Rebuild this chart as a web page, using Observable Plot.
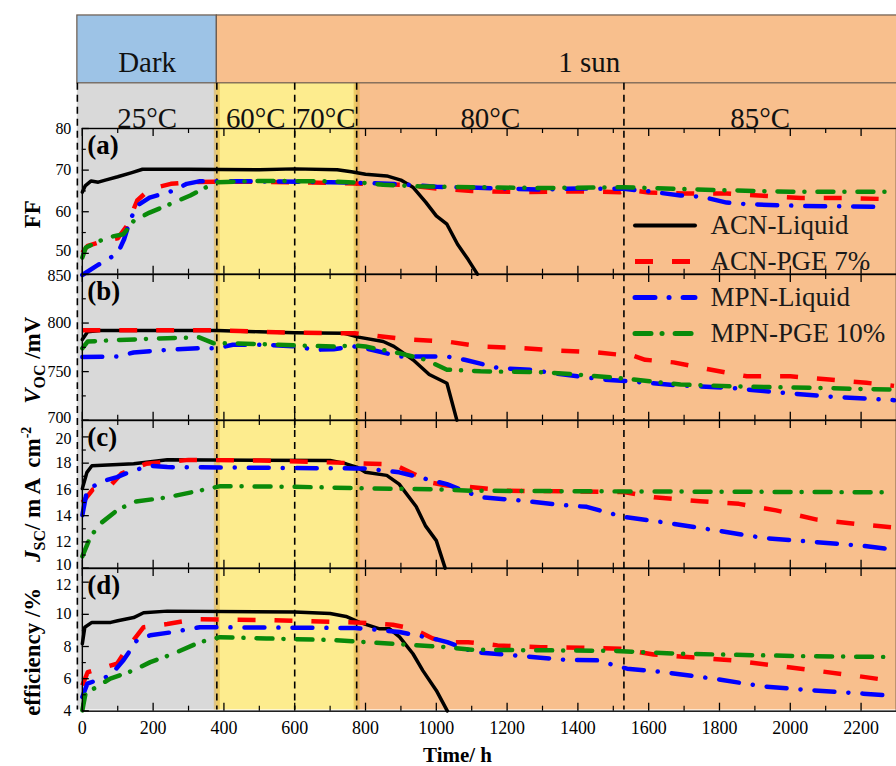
<!DOCTYPE html>
<html><head><meta charset="utf-8">
<script src="https://cdn.jsdelivr.net/npm/d3@7"></script>
<script src="https://cdn.jsdelivr.net/npm/@observablehq/plot@0.6"></script>
<style>
body{margin:0;background:#fff}
#chart{position:relative;width:896px;height:766px;overflow:hidden;background:#fff;font-family:"Liberation Serif","Times New Roman",serif}
#chart > svg{position:absolute;left:0;overflow:visible;font-family:"Liberation Serif","Times New Roman",serif !important}
#chart svg text{font-family:"Liberation Serif","Times New Roman",serif !important}
</style></head><body><div id="chart"></div>
<script>
// ---------- data ----------
const seriesNames = ["ACN-Liquid", "ACN-PGE 7%", "MPN-Liquid", "MPN-PGE 10%"];
const seriesColors = ["#000000", "#ff0000", "#0000ff", "#0a8a0a"];

const phaseNames = ["Dark", "1 sun"];
const phaseStart = [-14, 380];
const phaseEnd = [380, 2484];
const phaseFill = ["#9dc3e6", "#f8bf8d"];

const tempNames = ["25°C", "60°C", "70°C", "80°C", "85°C"];
const tempStart = [-14, 380, 600, 775, 1530];
const tempEnd = [380, 600, 775, 1530, 2300];

const regionStart = [-14, 380, 775];
const regionEnd = [380, 775, 2484];
const regionFill = ["#d9d9d9", "#fdec8e", "#f8bf8d"];

const boundaries = [-14, 380, 600, 775, 1530];

const xMajor = [0, 200, 400, 600, 800, 1000, 1200, 1400, 1600, 1800, 2000, 2200];
const xMinor = [100, 300, 500, 700, 900, 1100, 1300, 1500, 1700, 1900, 2100];

// (a) FF
const ffACNLiquid = [[0,64.7],[8,66.2],[25,67.4],[45,67.1],[65,67.6],[100,68.4],[140,69.4],[170,70.2],[300,70.2],[500,70.1],[600,70.3],[720,70.1],[760,69.6],[800,69.0],[860,68.6],[900,67.6],[935,65.8],[970,62.3],[1000,59.0],[1030,57.0],[1060,52.2],[1090,48.5],[1116,45]];
const ffACNPGE = [[0,50.2],[15,51.8],[60,53],[100,53.6],[125,56.5],[155,62.7],[190,65.4],[250,66.7],[300,67.1],[380,67.2],[500,67.2],[650,67.0],[770,66.8],[900,66.5],[1000,65.6],[1100,65.0],[1250,64.7],[1400,64.9],[1520,64.7],[1540,65.3],[1600,64.6],[1700,64.4],[1820,64.4],[1910,63.9],[2030,63.3],[2150,63.3],[2293,63.0]];
const ffMPNLiquid = [[0,44.8],[40,47],[80,49],[100,50],[118,53.4],[135,58],[155,61.5],[190,63.4],[255,65],[295,66.7],[330,67.3],[500,67.3],[700,67.1],[800,66.9],[900,66.6],[1000,66],[1100,65.8],[1300,65.3],[1400,65.6],[1530,65.5],[1600,64.9],[1690,63.9],[1750,63.6],[1820,62.2],[1880,61.8],[2030,61.4],[2240,61.2]];
const ffMPNPGE = [[0,49],[10,51.4],[70,53.8],[116,54.6],[145,57.8],[190,59.8],[250,61.9],[305,63.9],[350,65.9],[380,67.1],[500,67.4],[700,67.3],[800,66.9],[850,66.5],[950,66.1],[1100,65.9],[1300,65.7],[1530,65.9],[1600,65.7],[1800,65.2],[2000,64.8],[2293,64.8]];

// (b) Voc
const vocACNLiquid = [[0,783],[15,791],[50,792.4],[380,792.4],[500,791],[600,790],[740,789.5],[780,785.5],[850,781],[880,776],[935,762],[980,747],[1030,738],[1058,700]];
const vocACNPGE = [[0,792.5],[380,792.5],[600,790],[770,789.5],[800,788],[915,783.3],[1030,781],[1125,775.8],[1240,774.2],[1340,771.7],[1455,769.7],[1520,767.3],[1540,768.5],[1590,762.2],[1670,759.5],[1765,752.7],[1877,745.2],[2000,745.2],[2110,741.8],[2215,738.5],[2293,735.3]];
const vocMPNLiquid = [[0,765],[100,765.6],[145,769.7],[240,772.4],[330,774.1],[380,774],[425,777.6],[520,777.6],[615,775.8],[650,772.4],[710,773],[765,776],[800,774],[895,765.6],[1030,765.6],[1080,762.2],[1175,753.7],[1265,752],[1360,746.9],[1475,741.8],[1540,740.1],[1690,735.7],[1830,733.3],[1925,729.9],[2110,724.2],[2252,721.4],[2293,720.6]];
const vocMPNPGE = [[0,774],[15,781],[100,782.5],[240,784.4],[330,785.3],[370,779.3],[430,779],[520,778.2],[615,776.8],[710,775.8],[765,777],[800,775.8],[895,769],[970,762.2],[1030,752],[1125,750.3],[1310,749.3],[1435,745.9],[1540,742.5],[1690,736.7],[1880,734.4],[2065,733.3],[2293,731.4]];

// (c) Jsc
const jscACNLiquid = [[0,16.06],[13,17.3],[27,17.8],[145,17.95],[240,18.26],[700,18.2],[745,17.95],[775,17.7],[800,17.3],[860,17.07],[895,16.4],[943,14.7],[970,13.2],[1000,12.1],[1025,10]];
const jscACNPGE = [[0,15.0],[30,16.0],[80,16.3],[110,17.2],[180,17.95],[300,18.25],[500,18.2],[770,18.0],[880,17.9],[990,16.5],[1030,16.3],[1090,16.2],[1200,15.9],[1530,15.8],[1615,15.4],[1745,15.1],[1855,14.9],[1960,14.4],[2075,13.7],[2190,13.35],[2293,13.1]];
const jscMPNLiquid = [[0,14.04],[13,15.9],[50,16.56],[98,16.94],[145,17.45],[192,17.8],[240,17.7],[500,17.65],[770,17.6],[800,17.6],[895,17.3],[970,16.8],[1030,16.4],[1125,15.4],[1220,15.2],[1360,14.8],[1425,14.67],[1530,13.9],[1640,13.5],[1785,12.9],[1925,12.3],[2065,12.0],[2205,11.7],[2293,11.4]];
const jscMPNPGE = [[0,10.9],[23,12.4],[51,13.4],[98,14.4],[145,15.05],[240,15.4],[330,15.9],[390,16.25],[600,16.2],[770,16.1],[1000,16.0],[1100,15.9],[1500,15.85],[2293,15.78]];

// (d) efficiency
const effACNLiquid = [[0,8.17],[7,9.2],[27,9.5],[80,9.5],[100,9.6],[145,9.8],[173,10.1],[240,10.2],[600,10.15],[700,10.05],[745,9.87],[783,9.5],[840,9.1],[868,9.1],[896,8.6],[934,7.55],[962,6.5],[1000,5.27],[1031,4]];
const effACNPGE = [[0,5.58],[15,6.4],[98,6.93],[126,7.86],[173,9.2],[240,9.4],[295,9.6],[332,9.7],[500,9.65],[770,9.5],[877,9.35],[934,9.1],[990,8.5],[1031,8.27],[1090,8.27],[1173,8.07],[1295,7.96],[1408,7.93],[1520,7.86],[1614,7.5],[1736,7.3],[1840,7.14],[1952,6.83],[2065,6.52],[2178,6.2],[2293,5.85]];
const effMPNLiquid = [[0,4.86],[14,5.69],[79,6.2],[116,7.14],[154,8.38],[192,8.7],[257,8.9],[332,9.2],[770,9.15],[802,9.1],[896,8.9],[990,8.5],[1031,8.27],[1107,7.65],[1219,7.45],[1360,7.18],[1454,7.14],[1539,6.62],[1642,6.41],[1783,6.0],[1924,5.52],[2065,5.27],[2206,5.07],[2293,4.93]];
const effMPNPGE = [[0,4.03],[9,5.07],[79,6.0],[145,6.52],[192,7.03],[257,7.55],[332,8.27],[389,8.58],[520,8.5],[708,8.4],[802,8.27],[1028,7.96],[1100,7.8],[1500,7.73],[1688,7.55],[2065,7.39],[2293,7.35]];

const ffTicks = [50, 60, 70, 80], ffMinor = [55, 65, 75];
const vocTicks = [700, 750, 800, 850], vocMinor = [725, 775, 825];
const jscTicks = [10, 12, 14, 16, 18, 20], jscMinor = [11, 13, 15, 17, 19];
const effTicks = [4, 6, 8, 10, 12], effMinor = [5, 7, 9, 11];

// ---------- styles ----------
const W = 898, ML = 82, innerW = W - ML;
const lineWidths = [3.5, 4.5, 4.5, 4.5];
const lineDash = [null, "18,19", "20,14,0.1,14", "16,11,0.1,13"];
const lineCaps = ["round", "butt", "round", "round"];
const FONT = "Liberation Serif";
const baseStyle = {fontFamily: FONT, fontSize: "18px", background: "transparent", overflow: "visible", color: "#000"};
const chart = document.getElementById("chart");

function place(svg, top, left = 0) {
  svg.setAttribute("font-family", "Liberation Serif, serif");
  svg.style.position = "absolute";
  svg.style.top = top + "px";
  svg.style.left = left + "px";
  chart.appendChild(svg);
  return svg;
}

// ---------- background / header ----------
const regions = regionStart.map((s, i) => ({s, e: regionEnd[i], fill: regionFill[i]}));
const phases = phaseNames.map((n, i) => ({n, s: phaseStart[i], e: phaseEnd[i], fill: phaseFill[i]}));
const temps = tempNames.map((n, i) => ({n, s: tempStart[i], e: tempEnd[i]}));
const H = 766;
const bg = Plot.plot({
  width: W, height: H, marginLeft: ML, marginRight: 0, marginTop: 0, marginBottom: 0,
  x: {domain: [0, 2300], axis: null},
  style: baseStyle,
  marks: [
    Plot.rect(regions, {x1: "s", x2: "e", fill: "fill", insetTop: 83, insetBottom: H - 711}),
    Plot.ruleX([380, 775], {x: d => d, insetTop: 83, insetBottom: H - 711, stroke: "#e0b040", strokeWidth: 6, strokeOpacity: 0.55}),
    Plot.rect(phases, {x1: "s", x2: "e", fill: "fill", insetTop: 15, insetBottom: H - 83, stroke: "#6a5a4c", strokeWidth: 1.2}),
    Plot.text(phases, {x: d => (d.s + d.e) / 2, text: "n", frameAnchor: "top", dy: 51, fontSize: 29, fontFamily: FONT, fill: "#111"}),
    Plot.text(temps, {x: d => (d.s + d.e) / 2, text: "n", frameAnchor: "top", dy: 107, fontSize: 29, fontFamily: FONT, fill: "#111"}),
    Plot.ruleX(boundaries, {x: d => d, insetTop: 83, insetBottom: H - 711, stroke: "#000", strokeWidth: 1.6, strokeDasharray: "7,5"})
  ]
});
place(bg, 0);

// ---------- panels ----------
function richLabel(svg, plain, parts) {
  d3.select(svg).selectAll("text").filter(function () { return this.textContent === plain; }).each(function () {
    const t = d3.select(this);
    t.text(null);
    parts.forEach(p => {
      const s = t.append("tspan").text(p.text);
      if (p.italic) s.attr("font-style", "italic");
      if (p.size) s.attr("font-size", p.size);
      if (p.dy) s.attr("dy", p.dy);
    });
  });
}

function panel({top, height, marginBottom = 0, domain, ticks, minor, label, labelDy, tag, series, bottomAxis, shift = {}}) {
  const innerH = height - marginBottom;
  const marks = [];
  series.forEach((pts, i) => marks.push(Plot.line(pts, {
    x: d => d[0], y: d => d[1], stroke: seriesColors[i], strokeWidth: lineWidths[i],
    strokeDasharray: lineDash[i], strokeLinecap: lineCaps[i], strokeLinejoin: "round"
  })));
  marks.push(Plot.frame({stroke: "#000", strokeWidth: 1.4}));
  marks.push(Plot.ruleX(xMajor, {x: d => d, insetTop: innerH - 8, stroke: "#000", strokeWidth: 1.3}));
  marks.push(Plot.ruleX(xMajor, {x: d => d, insetBottom: innerH - 8, stroke: "#000", strokeWidth: 1.3}));
  marks.push(Plot.ruleX(xMinor, {x: d => d, insetTop: innerH - 5, stroke: "#000", strokeWidth: 1.2}));
  marks.push(Plot.ruleX(xMinor, {x: d => d, insetBottom: innerH - 5, stroke: "#000", strokeWidth: 1.2}));
  marks.push(Plot.ruleY(ticks, {y: d => d, insetRight: innerW - 7, stroke: "#000", strokeWidth: 1.3}));
  marks.push(Plot.ruleY(minor, {y: d => d, insetRight: innerW - 4, stroke: "#000", strokeWidth: 1.2}));
  const plainTicks = ticks.filter(t => !(t in shift));
  marks.push(Plot.axisY({ticks: plainTicks, tickSize: 0, tickPadding: 11, fontSize: 16, fontFamily: FONT, label: null, tickFormat: d => String(d)}));
  ticks.filter(t => t in shift).forEach(t => marks.push(Plot.axisY({ticks: [t], tickSize: 0, tickPadding: 11, dy: shift[t], fontSize: 16, fontFamily: FONT, label: null, tickFormat: d => String(d)})));
  marks.push(Plot.text([tag], {text: d => d, frameAnchor: "top-left", dx: 5, dy: 6, lineAnchor: "top", textAnchor: "start", fontSize: 27, fontFamily: FONT, fontWeight: "bold"}));
  marks.push(Plot.text([label], {text: d => d, frameAnchor: "left", dx: -50, dy: labelDy, rotate: -90, textAnchor: "middle", fontSize: 23, fontFamily: FONT, fontWeight: "bold"}));
  if (bottomAxis) {
    marks.push(Plot.axisX({ticks: xMajor, tickSize: 0, tickPadding: 10, fontSize: 18, fontFamily: FONT, label: null, tickFormat: d => String(d)}));
    marks.push(Plot.text(["Time/ h"], {text: d => d, frameAnchor: "bottom", dx: -32, dy: 51, fontSize: 21, fontFamily: FONT, fontWeight: "bold"}));
  }
  const svg = Plot.plot({
    width: W, height, marginLeft: ML, marginRight: 0, marginTop: 0, marginBottom,
    x: bottomAxis ? {domain: [0, 2300]} : {domain: [0, 2300], axis: null},
    y: {domain},
    style: baseStyle,
    marks
  });
  return place(svg, top);
}

panel({top: 128, height: 146, domain: [45, 80], ticks: ffTicks, minor: ffMinor, label: "FF", labelDy: 13, tag: "(a)",
  shift: {50: -2}, series: [ffACNLiquid, ffACNPGE, ffMPNLiquid, ffMPNPGE]});
const pb = panel({top: 274, height: 146, domain: [700, 850], ticks: vocTicks, minor: vocMinor, label: "VOC /mV", labelDy: 13, tag: "(b)",
  shift: {700: -2, 850: 1}, series: [vocACNLiquid, vocACNPGE, vocMPNLiquid, vocMPNPGE]});
richLabel(pb, "VOC /mV", [{text: "V", italic: true}, {text: "OC", size: 16, dy: 5}, {text: " /mV", dy: -5}]);
const pc = panel({top: 420, height: 148, domain: [10, 21.25], ticks: jscTicks, minor: jscMinor, label: "JSC/ mA cm-2", labelDy: 0, tag: "(c)",
  shift: {20: 2, 10: -3}, series: [jscACNLiquid, jscACNPGE, jscMPNLiquid, jscMPNPGE]});
richLabel(pc, "JSC/ mA cm-2", [{text: "J", italic: true}, {text: "SC", size: 16, dy: 5}, {text: "/ m A  cm", dy: -5}, {text: "-2", size: 14, dy: -9}]);
panel({top: 568, height: 198, marginBottom: 55, domain: [3.98, 12.85], ticks: effTicks, minor: effMinor, label: "efficiency /%", labelDy: 12, tag: "(d)",
  shift: {12: 3}, series: [effACNLiquid, effACNPGE, effMPNLiquid, effMPNPGE], bottomAxis: true});

// ---------- legend ----------
const LW = 270;
const legend = Plot.plot({
  width: LW, height: 160, marginTop: 20, marginBottom: 32, marginLeft: 5, marginRight: 0,
  y: {type: "point", domain: seriesNames, padding: 0, axis: null},
  style: baseStyle,
  marks: [
    ...seriesNames.map((n, i) => Plot.ruleY([n], {y: d => d, insetRight: LW - 5 - 60, stroke: seriesColors[i],
      strokeWidth: lineWidths[i] + 0.5, strokeDasharray: lineDash[i], strokeLinecap: lineCaps[i]})),
    Plot.text(seriesNames, {y: d => d, text: d => d, frameAnchor: "left", dx: 75, textAnchor: "start", fontSize: 27, fontFamily: FONT, fill: "#1a1a1a"})
  ]
});
place(legend, 205, 630);
</script></body></html>
